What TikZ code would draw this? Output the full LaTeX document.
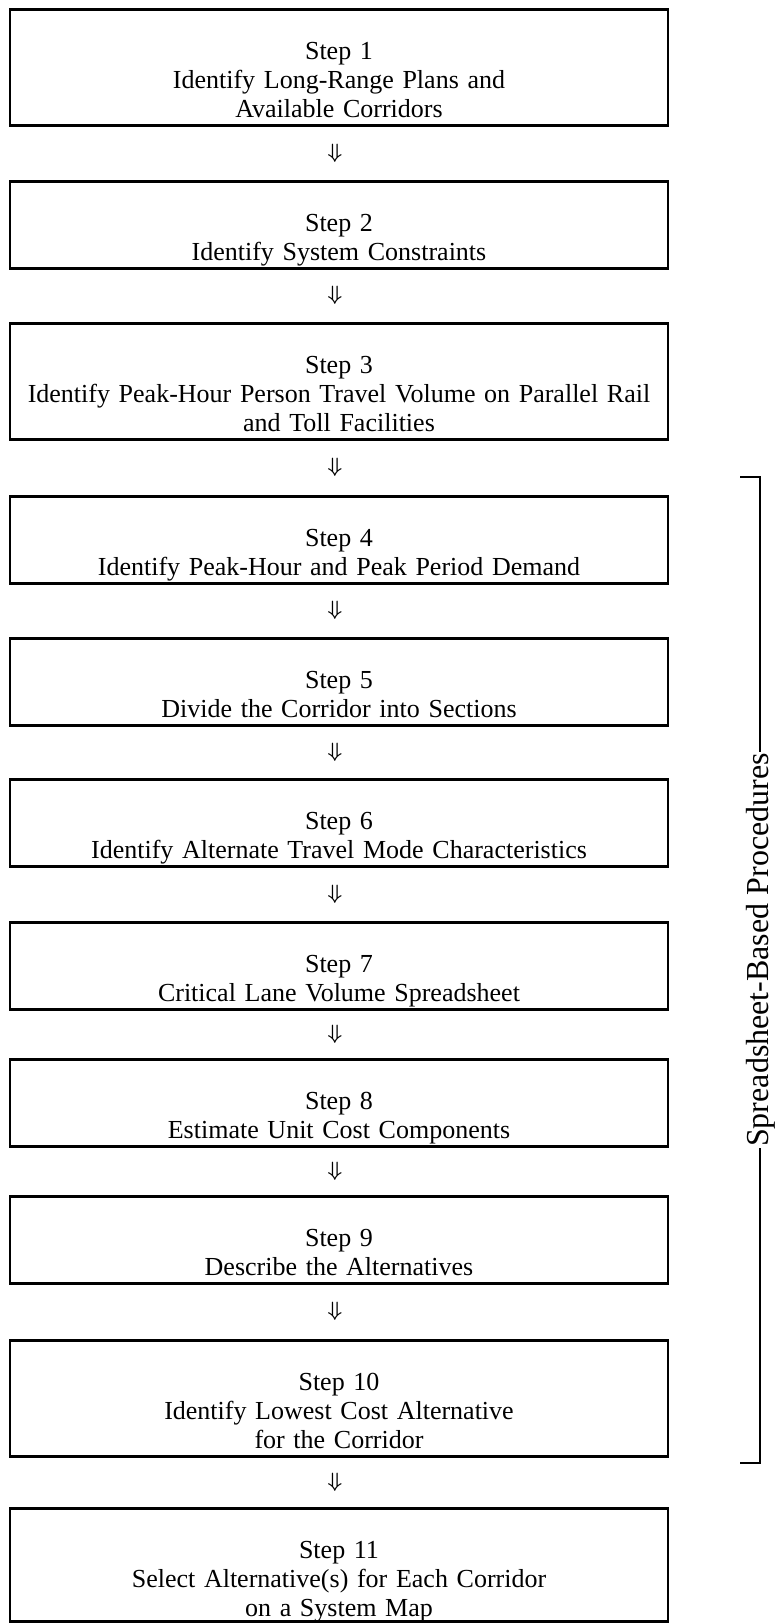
\documentclass[tikz,border=0pt]{standalone}
\usepackage{amsmath}
\usepackage{fontspec}
\setmainfont{Liberation Serif}
\usetikzlibrary{calc}
\tikzset{
  stagebox/.style={draw, line width=2.5pt, anchor=north, text width=658pt, align=center,
    inner xsep=0pt, inner ysep=0pt, text height=50pt, text depth=37pt,
    font=\fontsize{26}{29}\selectfont},
  tallbox/.style={stagebox, text depth=66pt},
  downarrow/.style={inner sep=0pt, font=\fontsize{20}{20}\selectfont},
  bracketline/.style={line width=2.2pt}
}
\begin{document}
\begin{tikzpicture}[x=1pt,y=1pt]
	\useasboundingbox (0,0) rectangle (776,-1623);
	% the steps
	\node[tallbox] (s1) at (339,-8) {Step 1\\Identify Long-Range Plans and\\Available Corridors};
	\node[stagebox] (s2) at (339,-180) {Step 2\\Identify System Constraints};
	\node[tallbox] (s3) at (339,-322) {Step 3\\Identify Peak-Hour Person Travel Volume on Parallel Rail\\and Toll Facilities};
	\node[stagebox] (s4) at (339,-495) {Step 4\\Identify Peak-Hour and Peak Period Demand};
	\node[stagebox] (s5) at (339,-637) {Step 5\\Divide the Corridor into Sections};
	\node[stagebox] (s6) at (339,-778) {Step 6\\Identify Alternate Travel Mode Characteristics};
	\node[stagebox] (s7) at (339,-921) {Step 7\\Critical Lane Volume Spreadsheet};
	\node[stagebox] (s8) at (339,-1058) {Step 8\\Estimate Unit Cost Components};
	\node[stagebox] (s9) at (339,-1195) {Step 9\\Describe the Alternatives};
	\node[tallbox] (s10) at (339,-1339) {Step 10\\Identify Lowest Cost Alternative\\for the Corridor};
	\node[tallbox, text depth=63pt] (s11) at (339,-1507) {Step 11\\Select Alternative(s) for Each Corridor\\on a System Map};
	% arrows between the steps
	\foreach \a/\b in {1/2,2/3,3/4,4/5,5/6,6/7,7/8,8/9,9/10,10/11}{
		\node[downarrow] (a\a) at ($(s\a.south)!0.5!(s\b.north)+(-4,0)$) {$\boldsymbol{\Downarrow}$};
	}
	% bracket for steps 4 to 10
	\coordinate (btop) at (760,-477);
	\coordinate (bbot) at (760,-1463);
	\coordinate (btopend) at (740,-477);
	\coordinate (bbotend) at (740,-1463);
	\node[rotate=90, anchor=base, inner sep=1pt, font=\fontsize{32}{32}\selectfont] (spb) at (768,-950) {Spreadsheet-Based Procedures};
	\draw[bracketline] (btopend) -- (btop) -- (btop |- spb.east);
	\draw[bracketline] (bbotend) -- (bbot) -- (bbot |- spb.west);
\end{tikzpicture}
\end{document}
